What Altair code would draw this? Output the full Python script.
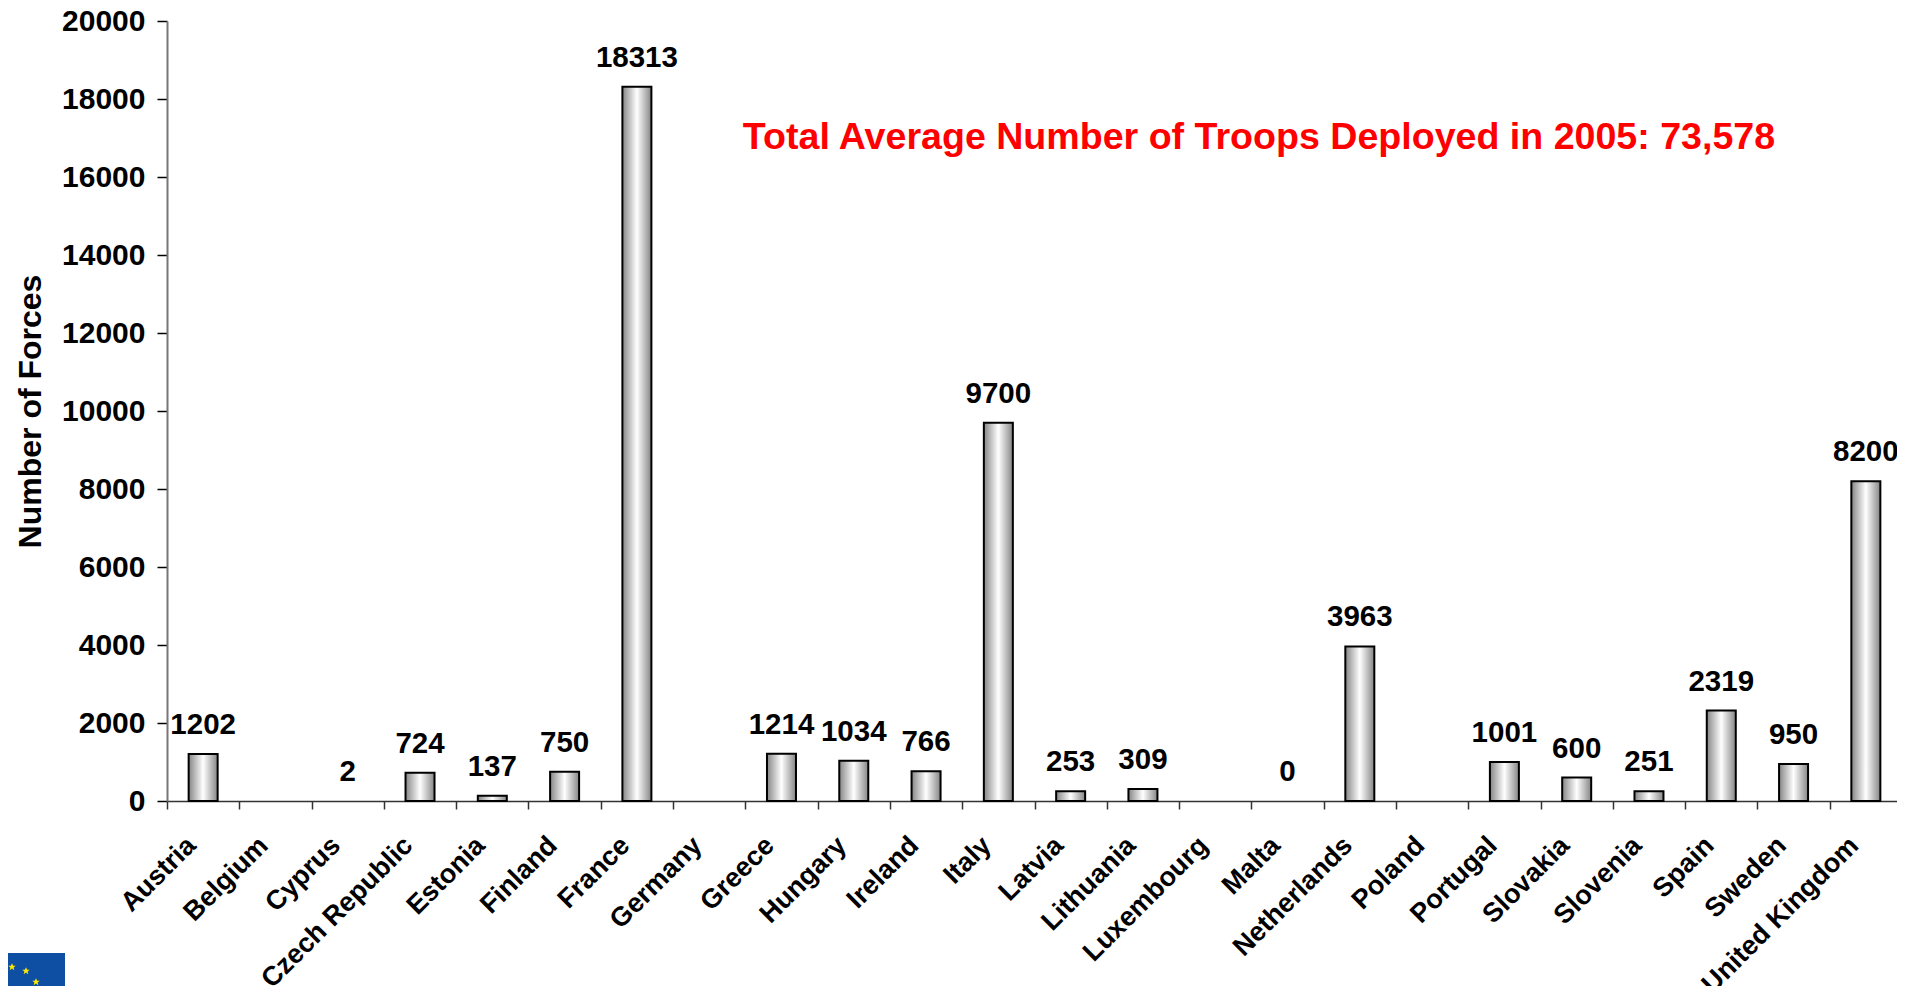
import altair as alt
import pandas as pd

countries = ["Austria", "Belgium", "Cyprus", "Czech Republic", "Estonia", "Finland", "France", "Germany",
             "Greece", "Hungary", "Ireland", "Italy", "Latvia", "Lithuania", "Luxembourg", "Malta",
             "Netherlands", "Poland", "Portugal", "Slovakia", "Slovenia", "Spain", "Sweden", "United Kingdom"]
forces = [1202, None, 2, 724, 137, 750, 18313, None,
          1214, 1034, 766, 9700, 253, 309, None, 0,
          3963, None, 1001, 600, 251, 2319, 950, 8200]
note = "Total Average Number of Troops Deployed in 2005: 73,578"
y_ticks = list(range(0, 20001, 2000))

FONT = "Liberation Sans"
df = pd.DataFrame({"country": countries, "forces": forces})
df = df.astype({"forces": "object"}).where(df["forces"].notna(), None)

x = alt.X("country:N", sort=None,
          scale=alt.Scale(domain=countries, paddingInner=0, paddingOuter=0, round=False, range=[0, 1735]),
          axis=alt.Axis(title=None, labelAngle=-45, labelAlign="right", labelBaseline="middle",
                        labelFont=FONT, labelFontWeight="bold", labelFontSize=27, labelColor="black",
                        labelPadding=32, labelOffset=-12, labelLimit=400, labelOverlap=False,
                        tickColor="#333333", tickSize=8, tickWidth=1.5, tickBand="extent",
                        domainColor="#333333", domainWidth=1.5, grid=False))
y = alt.Y("forces:Q", scale=alt.Scale(domain=[0, 20000], nice=False),
          axis=alt.Axis(title="Number of Forces", values=y_ticks, format="d",
                        titleFont=FONT, titleFontWeight="bold", titleFontSize=32, titleColor="black",
                        titleX=-120, titleY=390,
                        labelFont=FONT, labelFontWeight="bold", labelFontSize=30, labelColor="black",
                        labelPadding=12, tickColor="black", tickSize=10, tickWidth=1.5,
                        domainColor="#777777", domainWidth=2, grid=False))

gradient = alt.Gradient(gradient="linear", x1=0, x2=1, y1=0, y2=0,
                        stops=[alt.GradientStop(color="#858585", offset=0),
                               alt.GradientStop(color="#ffffff", offset=0.5),
                               alt.GradientStop(color="#858585", offset=1)])

bars = alt.Chart(df).transform_filter("datum.forces > 2").mark_bar(
    size=29, color=gradient, stroke="black", strokeWidth=2).encode(x=x, y=y)
labels = alt.Chart(df).transform_filter("datum.forces != null").mark_text(
    font=FONT, fontWeight="bold", fontSize=29.5, color="black", baseline="alphabetic", dy=-20
).encode(x=x, y=y, text=alt.Text("forces:Q", format="d"))

note_df = pd.DataFrame({"text": [note]})
note_mark = alt.Chart(note_df).mark_text(font=FONT, fontWeight="bold", fontSize=37.6, color="#ff0000").encode(
    x=alt.value(1092), y=alt.value(117), text="text:N")

flag_df = pd.DataFrame({"name": ["flag"]})
flag = alt.Chart(flag_df).mark_rect(color="#0f4fa3").encode(
    x=alt.value(-167), x2=alt.value(-102), y=alt.value(932), y2=alt.value(966))
STAR = "M0,-1L0.29,-0.31L0.95,-0.31L0.42,0.12L0.59,0.81L0,0.4L-0.59,0.81L-0.42,0.12L-0.95,-0.31L-0.29,-0.31Z"
stars = [flag]
for sx, sy in [(-155, 946), (-141, 950), (-131, 961)]:
    stars.append(alt.Chart(flag_df).mark_point(shape=STAR, filled=True, color="#ffe800", size=60, opacity=1).encode(
        x=alt.value(sx), y=alt.value(sy)))

chart = alt.layer(bars, labels, note_mark, *stars).properties(
    width=1730, height=780,
    padding={"left": 159, "top": 13, "right": 0, "bottom": 186},
    autosize=alt.AutoSizeParams(type="none"),
).configure_view(stroke=None)

chart.save("out.html", embed_options={"renderer": "svg", "actions": False})
